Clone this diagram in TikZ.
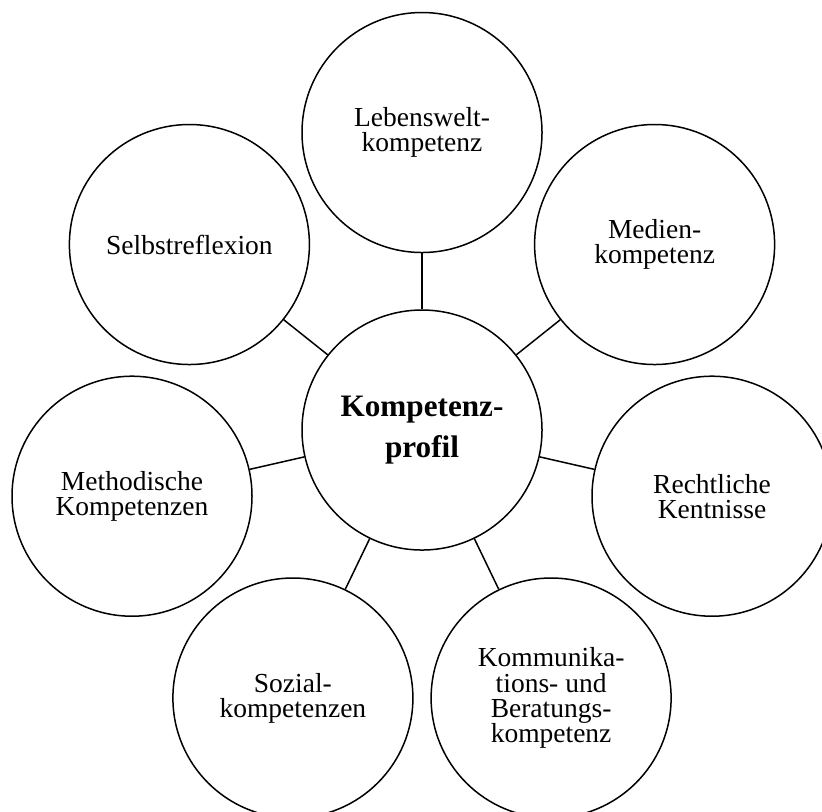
\documentclass[tikz,border=0pt]{standalone}
\usepackage{fontspec}
\setmainfont{Liberation Serif}
\tikzset{
  bubble/.style={circle, draw, line width=0.75pt, minimum size=120pt, inner sep=0pt, align=center,
    font=\fontsize{13.75pt}{12.6pt}\selectfont},
  hub/.style={bubble, font=\fontsize{15.6pt}{20.3pt}\selectfont\bfseries},
  link/.style={line width=0.75pt}
}
\begin{document}
\begin{tikzpicture}[x=0.5pt,y=-0.5pt]
\useasboundingbox (0,0) rectangle (822,811);
\clip (0,0) rectangle (822,811);
\node[hub] (c) at (422,430) {Kompetenz-\\profil};
\node[bubble] (leb) at (422,132.5) {Lebenswelt-\\kompetenz};
\node[bubble] (med) at (654.6,244.5) {Medien-\\kompetenz};
\node[bubble] (rec) at (712,496.2) {Rechtliche\\Kentnisse};
\node[bubble] (kom) at (551.1,698) {Kommunika-\\tions- und\\Beratungs-\\kompetenz};
\node[bubble] (soz) at (292.9,698) {Sozial-\\kompetenzen};
\node[bubble] (met) at (132,496.2) {Methodische\\Kompetenzen};
\node[bubble] (sel) at (189.4,244.5) {Selbstreflexion};
\foreach \o in {leb,med,rec,kom,soz,met,sel}
  \draw[link] (c) -- (\o);
\end{tikzpicture}
\end{document}
